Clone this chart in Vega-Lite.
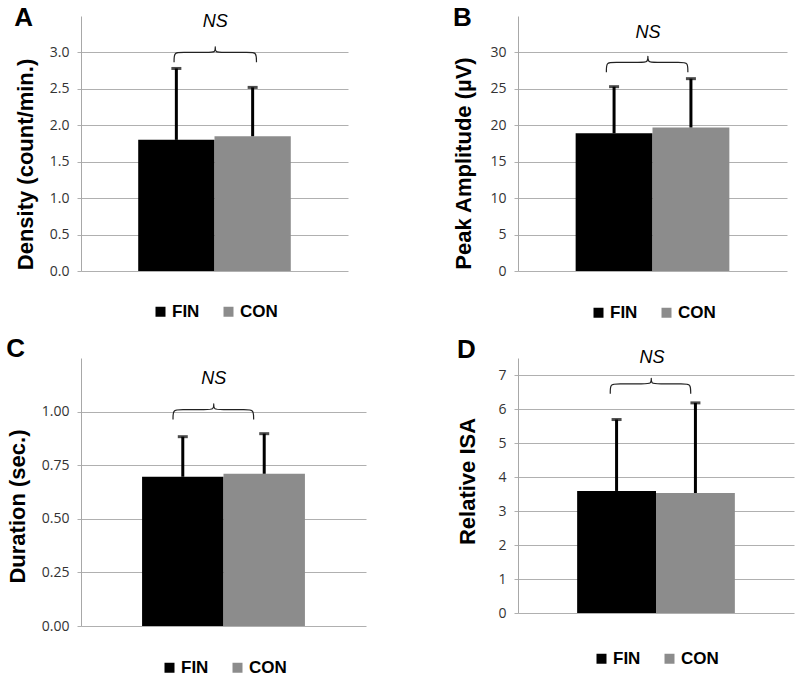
{
  "$schema": "https://vega.github.io/schema/vega-lite/v6.json",
  "background": "white",
  "padding": {"left": 6, "top": 4, "right": 5, "bottom": 5},
  "bounds": "flush",
  "columns": 2,
  "spacing": {"row": 87, "column": 152},
  "resolve": {"scale": {"color": "independent"}, "legend": {"color": "independent"}},
  "config": {
    "view": {"stroke": null},
    "axis": {
      "labelFont": "Open Sans", "labelFontSize": 14, "labelColor": "#333333", "labelOverlap": false,
      "titleFont": "Liberation Sans", "titleFontSize": 22, "titleFontWeight": "bold", "titleColor": "#000000",
      "gridColor": "#b0b0b0", "gridWidth": 1, "domainColor": "#a8a8a8", "domainWidth": 1,
      "tickColor": "#b0b0b0", "tickSize": 4, "labelPadding": 8, "titlePadding": 12, "tickCount": 12
    },
    "legend": {
      "orient": "bottom", "direction": "horizontal", "symbolType": "square", "symbolSize": 100,
      "symbolStrokeWidth": 0, "labelFont": "Liberation Sans", "labelFontSize": 17, "labelFontWeight": "bold",
      "labelColor": "#000000", "columnPadding": 20, "labelOffset": 3, "offset": 32,
      "layout": {"bottom": {"anchor": "middle"}}
    },
    "title": {"anchor": "start", "frame": "bounds", "font": "Liberation Sans", "fontSize": 26, "fontWeight": "bold", "color": "#000000", "offset": 0}
  },
  "concat": [
        {
          "width": 267, "height": 255,
          "title": {"text": "A", "dy": 22},
          "resolve": {"scale": {"x": "independent"}},
          "layer": [
            {
              "data": {"values": [{"group": "FIN", "mean": 1.80, "upper": 2.78}, {"group": "CON", "mean": 1.85, "upper": 2.52}]},
              "encoding": {
                "x": {"field": "group", "type": "nominal", "sort": ["FIN", "CON"], "scale": {"paddingInner": 0, "paddingOuter": 0.75}, "axis": null}
              },
              "layer": [
                {"mark": {"type": "bar"}, "encoding": {
                  "y": {"field": "mean", "type": "quantitative", "title": "Density (count/min.)", "scale": {"domain": [0, 3.5], "nice": false}, "axis": {"values": [0, 0.5, 1, 1.5, 2, 2.5, 3], "format": ".1f", "titleY": 148, "tickCount": 12}},
                  "color": {"field": "group", "type": "nominal", "scale": {"domain": ["FIN", "CON"], "range": ["#000000", "#8c8c8c"]}, "legend": {"title": null, "offset": 32}}}},
                {"mark": {"type": "rule", "strokeWidth": 3, "color": "#000000"}, "encoding": {
                  "y": {"field": "mean", "type": "quantitative", "title": "Density (count/min.)"}, "y2": {"field": "upper"}}},
                {"mark": {"type": "tick", "thickness": 3, "size": 10, "color": "#000000"}, "encoding": {
                  "y": {"field": "upper", "type": "quantitative", "title": "Density (count/min.)"}}}
              ]
            },
            {
              "data": {"values": [
                {"i": 0, "bx": 0.97, "by": 2.864}, {"i": 1, "bx": 0.97, "by": 3.0}, {"i": 2, "bx": 1.05, "by": 3.0},
                {"i": 3, "bx": 1.43, "by": 3.0}, {"i": 4, "bx": 1.51, "by": 3.0}, {"i": 5, "bx": 1.51, "by": 3.08},
                {"i": 6, "bx": 1.51, "by": 3.08}, {"i": 7, "bx": 1.51, "by": 3.0}, {"i": 8, "bx": 1.59, "by": 3.0},
                {"i": 9, "bx": 1.97, "by": 3.0}, {"i": 10, "bx": 2.05, "by": 3.0}, {"i": 11, "bx": 2.05, "by": 2.864}
              ]},
              "mark": {"type": "line", "interpolate": "basis", "color": "#222222", "strokeWidth": 1.2},
              "encoding": {
                "x": {"field": "bx", "type": "quantitative", "scale": {"domain": [-0.25, 3.25]}, "axis": null},
                "y": {"field": "by", "type": "quantitative", "title": "Density (count/min.)"},
                "order": {"field": "i", "type": "quantitative"}
              }
            },
            {
              "data": {"values": [{"label": "NS", "bx": 1.51, "by": 3.42}]},
              "mark": {"type": "text", "font": "Liberation Sans", "fontStyle": "italic", "fontSize": 18, "color": "#000000"},
              "encoding": {
                "x": {"field": "bx", "type": "quantitative", "scale": {"domain": [-0.25, 3.25]}, "axis": null},
                "y": {"field": "by", "type": "quantitative", "title": "Density (count/min.)"},
                "text": {"field": "label"}
              }
            }
          ]
        },
        {
          "width": 269, "height": 255,
          "title": {"text": "B", "dy": 19},
          "resolve": {"scale": {"x": "independent"}},
          "layer": [
            {
              "data": {"values": [{"group": "FIN", "mean": 18.9, "upper": 25.3}, {"group": "CON", "mean": 19.7, "upper": 26.4}]},
              "encoding": {
                "x": {"field": "group", "type": "nominal", "sort": ["FIN", "CON"], "scale": {"paddingInner": 0, "paddingOuter": 0.75}, "axis": null}
              },
              "layer": [
                {"mark": {"type": "bar"}, "encoding": {
                  "y": {"field": "mean", "type": "quantitative", "title": "Peak Amplitude (µV)", "scale": {"domain": [0, 35], "nice": false}, "axis": {"values": [0, 5, 10, 15, 20, 25, 30], "format": "d", "titleY": 147, "titlePadding": 14, "tickCount": 12}},
                  "color": {"field": "group", "type": "nominal", "scale": {"domain": ["FIN", "CON"], "range": ["#000000", "#8c8c8c"]}, "legend": {"title": null, "offset": 33}}}},
                {"mark": {"type": "rule", "strokeWidth": 3, "color": "#000000"}, "encoding": {
                  "y": {"field": "mean", "type": "quantitative", "title": "Peak Amplitude (µV)"}, "y2": {"field": "upper"}}},
                {"mark": {"type": "tick", "thickness": 3, "size": 10, "color": "#000000"}, "encoding": {
                  "y": {"field": "upper", "type": "quantitative", "title": "Peak Amplitude (µV)"}}}
              ]
            },
            {
              "data": {"values": [
                {"i": 0, "bx": 0.90, "by": 27.27}, {"i": 1, "bx": 0.90, "by": 28.64}, {"i": 2, "bx": 0.98, "by": 28.64},
                {"i": 3, "bx": 1.36, "by": 28.64}, {"i": 4, "bx": 1.44, "by": 28.64}, {"i": 5, "bx": 1.44, "by": 29.5},
                {"i": 6, "bx": 1.44, "by": 29.5}, {"i": 7, "bx": 1.44, "by": 28.64}, {"i": 8, "bx": 1.52, "by": 28.64},
                {"i": 9, "bx": 1.88, "by": 28.64}, {"i": 10, "bx": 1.96, "by": 28.64}, {"i": 11, "bx": 1.96, "by": 27.27}
              ]},
              "mark": {"type": "line", "interpolate": "basis", "color": "#222222", "strokeWidth": 1.2},
              "encoding": {
                "x": {"field": "bx", "type": "quantitative", "scale": {"domain": [-0.25, 3.25]}, "axis": null},
                "y": {"field": "by", "type": "quantitative", "title": "Peak Amplitude (µV)"},
                "order": {"field": "i", "type": "quantitative"}
              }
            },
            {
              "data": {"values": [{"label": "NS", "bx": 1.44, "by": 32.7}]},
              "mark": {"type": "text", "font": "Liberation Sans", "fontStyle": "italic", "fontSize": 18, "color": "#000000"},
              "encoding": {
                "x": {"field": "bx", "type": "quantitative", "scale": {"domain": [-0.25, 3.25]}, "axis": null},
                "y": {"field": "by", "type": "quantitative", "title": "Peak Amplitude (µV)"},
                "text": {"field": "label"}
              }
            }
          ]
        },
        {
          "width": 285, "height": 268,
          "title": {"text": "C", "dy": 8},
          "resolve": {"scale": {"x": "independent"}},
          "layer": [
            {
              "data": {"values": [{"group": "FIN", "mean": 0.696, "upper": 0.883}, {"group": "CON", "mean": 0.71, "upper": 0.897}]},
              "encoding": {
                "x": {"field": "group", "type": "nominal", "sort": ["FIN", "CON"], "scale": {"paddingInner": 0, "paddingOuter": 0.75}, "axis": null}
              },
              "layer": [
                {"mark": {"type": "bar"}, "encoding": {
                  "y": {"field": "mean", "type": "quantitative", "title": "Duration (sec.)", "scale": {"domain": [0, 1.25], "nice": false}, "axis": {"values": [0, 0.25, 0.5, 0.75, 1], "format": ".2f", "titleY": 148, "tickCount": 12}},
                  "color": {"field": "group", "type": "nominal", "scale": {"domain": ["FIN", "CON"], "range": ["#000000", "#8c8c8c"]}, "legend": {"title": null, "offset": 33}}}},
                {"mark": {"type": "rule", "strokeWidth": 3, "color": "#000000"}, "encoding": {
                  "y": {"field": "mean", "type": "quantitative", "title": "Duration (sec.)"}, "y2": {"field": "upper"}}},
                {"mark": {"type": "tick", "thickness": 3, "size": 10, "color": "#000000"}, "encoding": {
                  "y": {"field": "upper", "type": "quantitative", "title": "Duration (sec.)"}}}
              ]
            },
            {
              "data": {"values": [
                {"i": 0, "bx": 0.88, "by": 0.963}, {"i": 1, "bx": 0.88, "by": 1.009}, {"i": 2, "bx": 0.96, "by": 1.009},
                {"i": 3, "bx": 1.30, "by": 1.009}, {"i": 4, "bx": 1.38, "by": 1.009}, {"i": 5, "bx": 1.38, "by": 1.037},
                {"i": 6, "bx": 1.38, "by": 1.037}, {"i": 7, "bx": 1.38, "by": 1.009}, {"i": 8, "bx": 1.46, "by": 1.009},
                {"i": 9, "bx": 1.79, "by": 1.009}, {"i": 10, "bx": 1.87, "by": 1.009}, {"i": 11, "bx": 1.87, "by": 0.963}
              ]},
              "mark": {"type": "line", "interpolate": "basis", "color": "#222222", "strokeWidth": 1.2},
              "encoding": {
                "x": {"field": "bx", "type": "quantitative", "scale": {"domain": [-0.25, 3.25]}, "axis": null},
                "y": {"field": "by", "type": "quantitative", "title": "Duration (sec.)"},
                "order": {"field": "i", "type": "quantitative"}
              }
            },
            {
              "data": {"values": [{"label": "NS", "bx": 1.38, "by": 1.15}]},
              "mark": {"type": "text", "font": "Liberation Sans", "fontStyle": "italic", "fontSize": 18, "color": "#000000"},
              "encoding": {
                "x": {"field": "bx", "type": "quantitative", "scale": {"domain": [-0.25, 3.25]}, "axis": null},
                "y": {"field": "by", "type": "quantitative", "title": "Duration (sec.)"},
                "text": {"field": "label"}
              }
            }
          ]
        },
        {
          "width": 276, "height": 255,
          "title": {"text": "D", "dy": 18},
          "resolve": {"scale": {"x": "independent"}},
          "layer": [
            {
              "data": {"values": [{"group": "FIN", "mean": 3.59, "upper": 5.69}, {"group": "CON", "mean": 3.53, "upper": 6.18}]},
              "encoding": {
                "x": {"field": "group", "type": "nominal", "sort": ["FIN", "CON"], "scale": {"paddingInner": 0, "paddingOuter": 0.75}, "axis": null}
              },
              "layer": [
                {"mark": {"type": "bar"}, "encoding": {
                  "y": {"field": "mean", "type": "quantitative", "title": "Relative ISA", "scale": {"domain": [0, 7.5], "nice": false}, "axis": {"values": [0, 1, 2, 3, 4, 5, 6, 7], "format": "d", "titleY": 123, "titlePadding": 18, "tickCount": 12}},
                  "color": {"field": "group", "type": "nominal", "scale": {"domain": ["FIN", "CON"], "range": ["#000000", "#8c8c8c"]}, "legend": {"title": null, "offset": 37}}}},
                {"mark": {"type": "rule", "strokeWidth": 3, "color": "#000000"}, "encoding": {
                  "y": {"field": "mean", "type": "quantitative", "title": "Relative ISA"}, "y2": {"field": "upper"}}},
                {"mark": {"type": "tick", "thickness": 3, "size": 10, "color": "#000000"}, "encoding": {
                  "y": {"field": "upper", "type": "quantitative", "title": "Relative ISA"}}}
              ]
            },
            {
              "data": {"values": [
                {"i": 0, "bx": 0.92, "by": 6.45}, {"i": 1, "bx": 0.92, "by": 6.74}, {"i": 2, "bx": 1.0, "by": 6.74},
                {"i": 3, "bx": 1.36, "by": 6.74}, {"i": 4, "bx": 1.44, "by": 6.74}, {"i": 5, "bx": 1.44, "by": 6.91},
                {"i": 6, "bx": 1.44, "by": 6.91}, {"i": 7, "bx": 1.44, "by": 6.74}, {"i": 8, "bx": 1.52, "by": 6.74},
                {"i": 9, "bx": 1.86, "by": 6.74}, {"i": 10, "bx": 1.94, "by": 6.74}, {"i": 11, "bx": 1.94, "by": 6.45}
              ]},
              "mark": {"type": "line", "interpolate": "basis", "color": "#222222", "strokeWidth": 1.2},
              "encoding": {
                "x": {"field": "bx", "type": "quantitative", "scale": {"domain": [-0.25, 3.25]}, "axis": null},
                "y": {"field": "by", "type": "quantitative", "title": "Relative ISA"},
                "order": {"field": "i", "type": "quantitative"}
              }
            },
            {
              "data": {"values": [{"label": "NS", "bx": 1.45, "by": 7.49}]},
              "mark": {"type": "text", "font": "Liberation Sans", "fontStyle": "italic", "fontSize": 18, "color": "#000000"},
              "encoding": {
                "x": {"field": "bx", "type": "quantitative", "scale": {"domain": [-0.25, 3.25]}, "axis": null},
                "y": {"field": "by", "type": "quantitative", "title": "Relative ISA"},
                "text": {"field": "label"}
              }
            }
          ]
        }
  ]
}
